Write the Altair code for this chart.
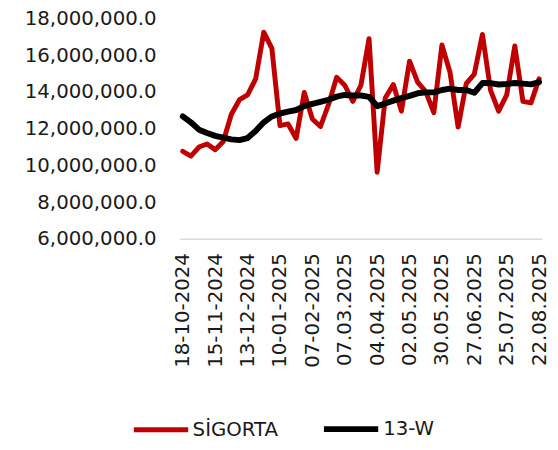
import altair as alt
import pandas as pd

# Weekly dates (18-10-2024 .. 22-08-2025)
dates = pd.date_range("2024-10-18", periods=45, freq="7D")
labels = [d.strftime("%d-%m-%Y") if i < 20 else d.strftime("%d.%m.%Y") for i, d in enumerate(dates)]

sigorta = [10.77, 10.51, 11.00, 11.17, 10.86, 11.30, 12.79, 13.58, 13.84, 14.72,
           17.26, 16.38, 12.17, 12.26, 11.47, 13.98, 12.53, 12.12, 13.32, 14.80,
           14.37, 13.49, 14.37, 16.91, 9.63, 13.67, 14.41, 12.96, 15.68, 14.54,
           14.02, 12.88, 16.56, 15.07, 12.09, 14.46, 14.98, 17.14, 14.11, 12.96,
           13.84, 16.51, 13.49, 13.41, 14.72]
w13 = [12.67, 12.35, 11.95, 11.77, 11.61, 11.51, 11.42, 11.38, 11.49, 11.88,
       12.35, 12.67, 12.83, 12.93, 13.02, 13.23, 13.35, 13.46, 13.58, 13.75,
       13.84, 13.81, 13.81, 13.74, 13.23, 13.37, 13.53, 13.67, 13.79, 13.93,
       13.98, 13.98, 14.11, 14.19, 14.11, 14.11, 13.96, 14.49, 14.49, 14.41,
       14.44, 14.49, 14.46, 14.42, 14.54]

series_names = ["SİGORTA", "13-W"]
series_colors = ["#C00000", "#000000"]

rows = []
for i, lab in enumerate(labels):
    rows.append({"week": lab, "order": i, "series": series_names[0], "value": sigorta[i] * 1e6})
    rows.append({"week": lab, "order": i, "series": series_names[1], "value": w13[i] * 1e6})
df = pd.DataFrame(rows)

FONT = "DejaVu Sans"

chart = alt.Chart(df).mark_line(strokeJoin="round", strokeCap="round").encode(
    x=alt.X("week:O", sort=labels, title=None,
            scale=alt.Scale(type="point", padding=0.37),
            axis=alt.Axis(values=labels[::4], labelAngle=-90, ticks=False,
                          labelPadding=14, labelFontSize=20, labelColor="#1a1a1a",
                          domainColor="#d9d9d9", domainWidth=1.5, grid=False,
                          labelFont=FONT)),
    y=alt.Y("value:Q", title=None,
            scale=alt.Scale(domain=[6e6, 18e6], nice=False, zero=False),
            axis=alt.Axis(values=[6e6, 8e6, 10e6, 12e6, 14e6, 16e6, 18e6], format=",.1f",
                          labelFontSize=20, labelColor="#1a1a1a", labelPadding=24,
                          ticks=False, domain=False, grid=False, labelFont=FONT)),
    color=alt.Color("series:N", scale=alt.Scale(domain=series_names, range=series_colors),
                    legend=alt.Legend(title=None, orient="none", direction="horizontal",
                                      legendX=-49, legendY=385,
                                      symbolType="stroke", symbolSize=3025,
                                      symbolStrokeWidth=5, labelFontSize=20,
                                      labelFont=FONT, labelColor="#1a1a1a",
                                      labelOffset=2, columnPadding=34, padding=0,
                                      labelLimit=300)),
    strokeWidth=alt.StrokeWidth("series:N", scale=alt.Scale(domain=series_names, range=[5, 6]),
                                legend=None),
    order=alt.Order("order:Q"),
).properties(
    width=367, height=223,
    autosize=alt.AutoSizeParams(type="none"),
    padding={"left": 174, "top": 8, "right": 8, "bottom": 200},
).configure_view(stroke=None)

chart.save("out.html", embed_options={"renderer": "svg", "actions": False})
